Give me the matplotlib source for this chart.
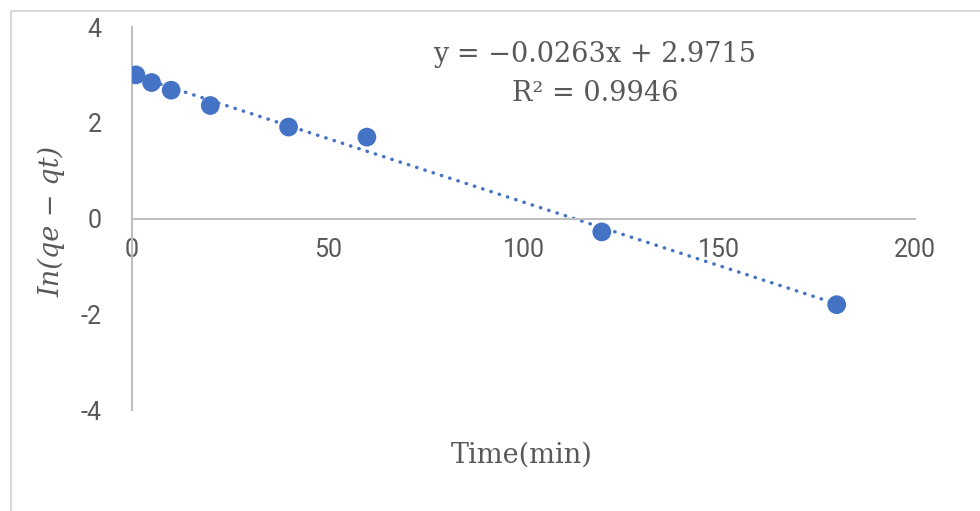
import matplotlib.pyplot as plt
import matplotlib.patches as mpatches
import numpy as np

# data
time_min = [1, 5, 10, 20, 40, 60, 120, 180]
ln_qe_qt = [3.00, 2.84, 2.68, 2.36, 1.91, 1.70, -0.28, -1.80]
x_ticks = [0, 50, 100, 150, 200]
y_ticks = [-4, -2, 0, 2, 4]
eq_text = "y = \u22120.0263x + 2.9715\nR\u00b2 = 0.9946"

blue = "#4472C4"
grey_txt = "#595959"
grey_line = "#BFBFBF"

fig = plt.figure(figsize=(9.8, 5.11), dpi=100)
ax = fig.add_axes([132 / 980, 1 - 410 / 511, 783 / 980, 383 / 511])

# outer chart frame (only top/left visible in the crop)
fig.add_artist(mpatches.Rectangle((11 / 980, -0.2), 1.2, 1.2 - 11 / 511,
                                  transform=fig.transFigure, fill=False,
                                  edgecolor="#D9D9D9", linewidth=1.5))

ax.scatter(time_min, ln_qe_qt, s=13.5 ** 2, color=blue, zorder=3,
           edgecolors="none")

# linear trendline over the data range
k, b = np.polyfit(time_min, ln_qe_qt, 1)
xs = np.array([min(time_min), max(time_min)])
ax.plot(xs, k * xs + b, color=blue, linewidth=2.5,
        linestyle=(0, (0.1, 2.4)), dash_capstyle="round", zorder=2)

ax.set_xlim(0, 200)
ax.set_ylim(-4, 4)
ax.set_xticks(x_ticks)
ax.set_yticks(y_ticks)
ax.set_xticklabels([str(t) for t in x_ticks])
ax.set_yticklabels([str(t) for t in y_ticks])

for side in ["top", "right"]:
    ax.spines[side].set_visible(False)
ax.spines["left"].set_position(("data", 0))
ax.spines["bottom"].set_position(("data", 0))
for side in ["left", "bottom"]:
    ax.spines[side].set_color(grey_line)
    ax.spines[side].set_linewidth(1.5)

ax.tick_params(axis="both", length=0, colors=grey_txt)
ax.tick_params(axis="x", pad=14)
ax.tick_params(axis="y", pad=22)
for lab in ax.get_xticklabels() + ax.get_yticklabels():
    lab.set_family("Roboto")
    lab.set_fontsize(18)

fig.text(595 / 980, 1 - 74 / 511, eq_text, ha="center", va="center",
         family="DejaVu Serif", fontsize=19.5, color=grey_txt, linespacing=1.55)

fig.text(522 / 980, 1 - 455 / 511, "Time(min)", ha="center", va="center",
         family="DejaVu Serif", fontsize=19.5, color=grey_txt)
fig.text(52 / 980, 1 - 221 / 511, "In(qe \u2212 qt)", ha="center", va="center",
         rotation=90, family="DejaVu Serif", style="italic", fontsize=19.5,
         color=grey_txt)

fig.savefig("out.png", dpi=100)
